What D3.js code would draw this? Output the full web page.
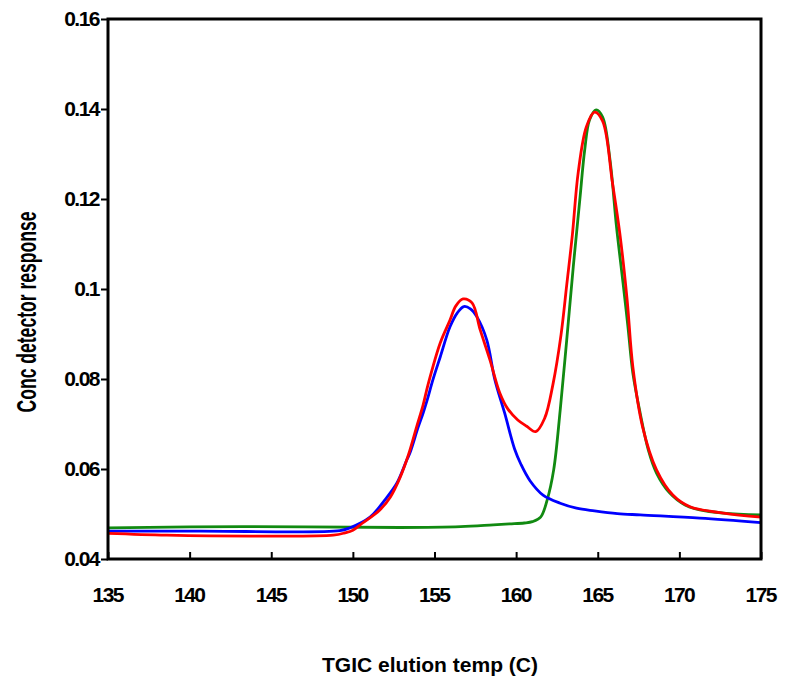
<!DOCTYPE html>
<html>
<head>
<meta charset="utf-8">
<script src="https://cdn.jsdelivr.net/npm/d3@7"></script>
<style>
  html, body { margin: 0; padding: 0; background: #fff; }
  svg { display: block; }
  text { font-family: "Liberation Sans", Arial, sans-serif; font-weight: bold; fill: #000; }
</style>
</head>
<body>
<svg id="chart" width="792" height="679"></svg>
<script>
// Elution temperature (C) / concentration detector response pairs for each trace
const greenTemp = [135, 143.3, 152.9, 156.6, 158.6, 159.6, 160.5, 161.0, 161.5, 161.9, 162.3, 162.7, 163.1, 163.5, 163.9, 164.2, 164.5, 164.9, 165.3, 165.75, 166.15, 166.55, 166.85, 167.15, 167.6, 168.1, 168.6, 169.4, 170.35, 171.25, 172.7, 175];
const greenResp = [0.0469, 0.0472, 0.0470, 0.0472, 0.0476, 0.0478, 0.0480, 0.0483, 0.0493, 0.0531, 0.0598, 0.0731, 0.0887, 0.1049, 0.1198, 0.1309, 0.1376, 0.1398, 0.1382, 0.1287, 0.1138, 0.1013, 0.0916, 0.0813, 0.0724, 0.0642, 0.0591, 0.0547, 0.0520, 0.0509, 0.0502, 0.0498];

const blueTemp = [135, 140.6, 149.2, 149.8, 151.05, 151.95, 152.7, 153.3, 153.5, 154.0, 154.3, 154.55, 154.9, 155.35, 155.95, 156.4, 156.8, 157.2, 157.6, 158.2, 158.7, 159.3, 159.9, 160.3, 160.85, 161.65, 162.7, 163.7, 164.8, 166.2, 167.6, 171.25, 175];
const blueResp = [0.0462, 0.0462, 0.0463, 0.0469, 0.0493, 0.0531, 0.0569, 0.0620, 0.0636, 0.0693, 0.0724, 0.0753, 0.0798, 0.0849, 0.0916, 0.0947, 0.0961, 0.0956, 0.0938, 0.0887, 0.0798, 0.0724, 0.0645, 0.0610, 0.0574, 0.0542, 0.0524, 0.0513, 0.0507, 0.0501, 0.0498, 0.0491, 0.0481];

const redTemp = [135, 138.6, 143.7, 148.8, 149.5, 150.0, 150.6, 151.65, 152.3, 152.9, 153.4, 153.9, 154.3, 154.6, 155.35, 155.95, 156.3, 156.75, 157.3, 157.8, 158.4, 159.0, 159.5, 160.1, 160.65, 161.2, 161.75, 162.25, 162.75, 163.1, 163.45, 163.8, 164.3, 164.8, 165.3, 165.9, 166.35, 166.8, 167.15, 167.75, 168.6, 169.6, 170.65, 172.7, 175];
const redResp = [0.0457, 0.0453, 0.0451, 0.0453, 0.0458, 0.0464, 0.0480, 0.0509, 0.0538, 0.0582, 0.0631, 0.0693, 0.0742, 0.0787, 0.0880, 0.0931, 0.0962, 0.0978, 0.0969, 0.0909, 0.0842, 0.0769, 0.0733, 0.0709, 0.0695, 0.0683, 0.0713, 0.0787, 0.0898, 0.1009, 0.1122, 0.1258, 0.1360, 0.1393, 0.1373, 0.1236, 0.1124, 0.0976, 0.0827, 0.0693, 0.0598, 0.0542, 0.0516, 0.0502, 0.0493];

const xTicks = [135, 140, 145, 150, 155, 160, 165, 170, 175];
const yTicks = [0.04, 0.06, 0.08, 0.1, 0.12, 0.14, 0.16];
const yTickLabels = ["0.04", "0.06", "0.08", "0.1", "0.12", "0.14", "0.16"];

const svg = d3.select("#chart");
const plotLeft = 108, plotRight = 761, plotTop = 19, plotBottom = 559;

const x = d3.scaleLinear().domain([135, 175]).range([plotLeft, plotRight]);
const y = d3.scaleLinear().domain([0.04, 0.16]).range([plotBottom, plotTop]);

const line = d3.line()
  .x(d => x(d[0]))
  .y(d => y(d[1]))
  .curve(d3.curveCatmullRom.alpha(0.5));

const series = [
  { t: greenTemp, r: greenResp, color: "#118a11" },
  { t: blueTemp, r: blueResp, color: "#0000ff" },
  { t: redTemp, r: redResp, color: "#ff0000" }
];

const plot = svg.append("g");
series.forEach(s => {
  plot.append("path")
    .datum(s.t.map((t, i) => [t, s.r[i]]))
    .attr("fill", "none")
    .attr("stroke", s.color)
    .attr("stroke-width", 2.8)
    .attr("stroke-linejoin", "round")
    .attr("d", line);
});

// Left axis: ticks point outward
const yAxis = svg.append("g")
  .attr("transform", `translate(${plotLeft},0)`)
  .call(d3.axisLeft(y).tickValues(yTicks).tickSize(7).tickPadding(2)
    .tickFormat((d, i) => yTickLabels[i]));
yAxis.select(".domain").remove();
yAxis.selectAll(".tick line").attr("stroke", "#000").attr("stroke-width", 2);
yAxis.selectAll(".tick text")
  .attr("font-size", 21)
  .attr("letter-spacing", "-1.5px")
  .attr("font-family", "'Liberation Sans', Arial, sans-serif")
  .attr("font-weight", "bold");

// Bottom axis: ticks point inward
const xAxis = svg.append("g")
  .attr("transform", `translate(0,${plotBottom})`)
  .call(d3.axisBottom(x).tickValues(xTicks).tickSize(-7).tickPadding(28)
    .tickFormat(d3.format("d")));
xAxis.select(".domain").remove();
xAxis.selectAll(".tick line").attr("stroke", "#000").attr("stroke-width", 2);
xAxis.selectAll(".tick text")
  .attr("font-size", 21)
  .attr("letter-spacing", "-1.6px")
  .attr("dx", "-0.8px")
  .attr("font-family", "'Liberation Sans', Arial, sans-serif")
  .attr("font-weight", "bold");

// Frame
svg.append("rect")
  .attr("x", plotLeft).attr("y", plotTop)
  .attr("width", plotRight - plotLeft).attr("height", plotBottom - plotTop)
  .attr("fill", "none").attr("stroke", "#000").attr("stroke-width", 3);

svg.append("text")
  .attr("x", 430).attr("y", 672)
  .attr("text-anchor", "middle")
  .attr("font-size", 21)
  .attr("textLength", 216)
  .attr("lengthAdjust", "spacingAndGlyphs")
  .text("TGIC elution temp (C)");

svg.append("text")
  .attr("transform", "translate(36,312) rotate(-90)")
  .attr("text-anchor", "middle")
  .attr("font-size", 27)
  .attr("textLength", 201)
  .attr("lengthAdjust", "spacingAndGlyphs")
  .text("Conc detector response");
</script>
</body>
</html>
